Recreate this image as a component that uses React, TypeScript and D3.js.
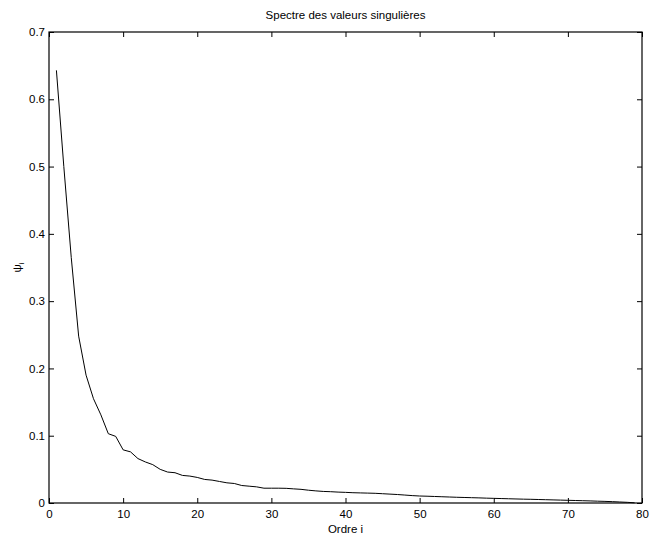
import { useEffect, useRef } from 'react'
import * as d3 from 'd3'

// singular values psi_i, i = 1..79
const orders = d3.range(1, 80)
const psiValues = [
  0.643, 0.5, 0.365, 0.248, 0.19, 0.155, 0.131, 0.103, 0.099, 0.079,
  0.076, 0.066, 0.061, 0.057, 0.05, 0.046, 0.045, 0.041, 0.04, 0.038,
  0.035, 0.034, 0.032, 0.03, 0.029, 0.026, 0.025, 0.024, 0.022, 0.022,
  0.022, 0.0218, 0.021, 0.0203, 0.019, 0.018, 0.0172, 0.0168, 0.0162, 0.0158,
  0.0153, 0.015, 0.0147, 0.0144, 0.0138, 0.0132, 0.0126, 0.0118, 0.011, 0.0104,
  0.0101, 0.0097, 0.0093, 0.0089, 0.0085, 0.0082, 0.0079, 0.0076, 0.0072, 0.0069,
  0.0066, 0.0063, 0.006, 0.0057, 0.0055, 0.0052, 0.0049, 0.0046, 0.0043, 0.004,
  0.0037, 0.0034, 0.0031, 0.0027, 0.0024, 0.002, 0.0015, 0.001, 0.0003,
]
const xTicks = [0, 10, 20, 30, 40, 50, 60, 70, 80]
const yTicks = [0, 0.1, 0.2, 0.3, 0.4, 0.5, 0.6, 0.7]

const title = 'Spectre des valeurs singulières'
const xLabel = 'Ordre i'

const width = 665
const height = 535
const margin = { top: 32, right: 23, bottom: 32, left: 49 }
const font = '"Liberation Sans", Arial, Helvetica, sans-serif'
const fontSize = 11.5

export default function App() {
  const svgRef = useRef<SVGSVGElement>(null)

  useEffect(() => {
    if (!svgRef.current) return
    const svg = d3.select(svgRef.current)
    svg.selectAll('*').remove()

    const innerWidth = width - margin.left - margin.right
    const innerHeight = height - margin.top - margin.bottom

    const x = d3.scaleLinear().domain([0, 80]).range([0, innerWidth])
    const y = d3.scaleLinear().domain([0, 0.7]).range([innerHeight, 0])

    svg.append('rect').attr('width', width).attr('height', height).attr('fill', '#fff')

    const g = svg.append('g').attr('transform', `translate(${margin.left},${margin.top})`)

    // box
    g.append('rect')
      .attr('width', innerWidth)
      .attr('height', innerHeight)
      .attr('fill', 'none')
      .attr('stroke', '#000')
      .attr('stroke-width', 1.2)

    // ticks inward on all sides
    const tickLen = 5
    const fmtX = d3.format('d')
    const fmtY = (v: number) => (v === 0 ? '0' : d3.format('.1f')(v))

    const bottom = g.append('g').attr('transform', `translate(0,${innerHeight})`)
    bottom.call(d3.axisBottom(x).tickValues(xTicks).tickSizeInner(-tickLen).tickSizeOuter(0).tickPadding(7).tickFormat((d) => fmtX(d as number)))
    const top = g.append('g')
    top.call(d3.axisTop(x).tickValues(xTicks).tickSizeInner(-tickLen).tickSizeOuter(0).tickFormat(() => ''))
    const left = g.append('g')
    left.call(d3.axisLeft(y).tickValues(yTicks).tickSizeInner(-tickLen).tickSizeOuter(0).tickPadding(4).tickFormat((d) => fmtY(d as number)))
    const right = g.append('g').attr('transform', `translate(${innerWidth},0)`)
    right.call(d3.axisRight(y).tickValues(yTicks).tickSizeInner(-tickLen).tickSizeOuter(0).tickFormat(() => ''))

    g.selectAll('.domain').remove()
    g.selectAll('.tick line').attr('stroke', '#000')
    g.selectAll('.tick text').attr('font-family', font).attr('font-size', fontSize).attr('fill', '#000')

    // curve
    const line = d3
      .line<number>()
      .x((_, i) => x(orders[i]))
      .y((d) => y(d))
    g.append('path')
      .datum(psiValues)
      .attr('d', line)
      .attr('fill', 'none')
      .attr('stroke', '#000')
      .attr('stroke-width', 1)

    // title
    svg.append('text')
      .attr('x', margin.left + innerWidth / 2)
      .attr('y', 19)
      .attr('text-anchor', 'middle')
      .attr('font-family', font)
      .attr('font-size', fontSize)
      .text(title)

    // x label
    svg.append('text')
      .attr('x', margin.left + innerWidth / 2)
      .attr('y', 533)
      .attr('text-anchor', 'middle')
      .attr('font-family', font)
      .attr('font-size', fontSize)
      .text(xLabel)

    // y label psi_i
    const yl = svg.append('text')
      .attr('transform', `translate(21,${margin.top + innerHeight / 2}) rotate(-90)`)
      .attr('text-anchor', 'middle')
      .attr('font-family', font)
      .attr('font-size', fontSize)
    yl.append('tspan').text('ψ')
    yl.append('tspan').attr('font-size', 8).attr('dy', 3).text('i')
  }, [])

  return (
    <svg
      ref={svgRef}
      width={width}
      height={height}
      style={{ position: 'absolute', left: 0, top: 0, display: 'block' }}
    />
  )
}
